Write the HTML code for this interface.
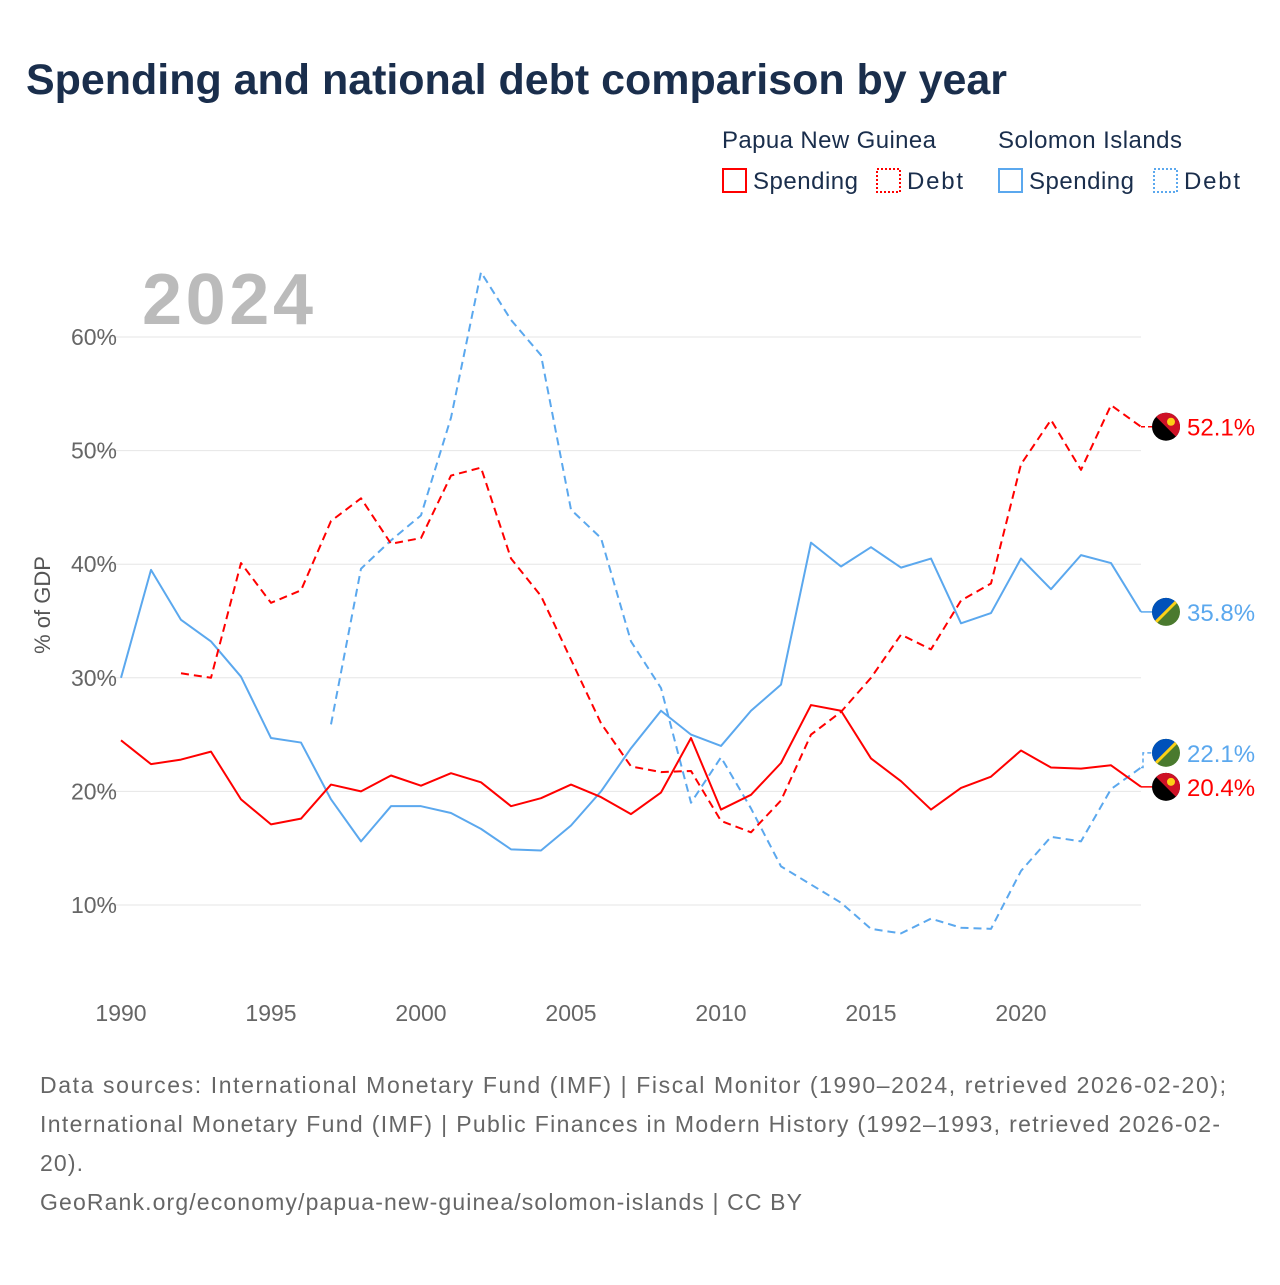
<!DOCTYPE html>
<html><head><meta charset="utf-8"><style>
body{margin:0;background:#fff;font-family:"Liberation Sans",sans-serif;}
svg text{font-family:"Liberation Sans",sans-serif;}
</style></head><body>
<svg width="1280" height="1280" viewBox="0 0 1280 1280">
<defs>
<clipPath id="cf"><circle cx="0" cy="0" r="14"/></clipPath>
</defs>
<text x="26" y="94" font-size="43" font-weight="bold" fill="#1a2e4c" textLength="981">Spending and national debt comparison by year</text>
<g font-size="24" fill="#1a2e4c">
<text x="722" y="148" fill="#1a2e4c" textLength="214">Papua New Guinea</text>
<text x="998" y="148" fill="#1a2e4c" textLength="184">Solomon Islands</text>
<g><rect x="723" y="169" width="23" height="23" fill="none" stroke="#f00" stroke-width="2"/><text x="753" y="189" fill="#1a2e4c" textLength="105">Spending</text></g>
<g><rect x="877" y="169" width="23" height="23" fill="none" stroke="#f00" stroke-width="2" stroke-dasharray="2,2"/><text x="907" y="189" fill="#1a2e4c" textLength="56">Debt</text></g>
<g><rect x="999" y="169" width="23" height="23" fill="none" stroke="#5ba8ee" stroke-width="2"/><text x="1029" y="189" fill="#1a2e4c" textLength="105">Spending</text></g>
<g><rect x="1154" y="169" width="23" height="23" fill="none" stroke="#5ba8ee" stroke-width="2" stroke-dasharray="2,2"/><text x="1184" y="189" fill="#1a2e4c" textLength="56">Debt</text></g>
</g>
<text x="142" y="324" font-size="72" font-weight="bold" fill="#bbb" textLength="171">2024</text>
<g id="grid"></g>
<g id="series"></g>
<g id="ends"></g>
<text transform="translate(50,605) rotate(-90)" text-anchor="middle" font-size="22" fill="#555">% of GDP</text>
<g font-size="23" fill="#666">
<text x="40" y="1093" textLength="1186">Data sources: International Monetary Fund (IMF) | Fiscal Monitor (1990–2024, retrieved 2026-02-20);</text>
<text x="40" y="1132" textLength="1180">International Monetary Fund (IMF) | Public Finances in Modern History (1992–1993, retrieved 2026-02-</text>
<text x="40" y="1171" textLength="43">20).</text>
<text x="40" y="1210" textLength="762">GeoRank.org/economy/papua-new-guinea/solomon-islands | CC BY</text>
</g>
</svg>
<script>
const yTicks=[10,20,30,40,50,60];
const xTicks=[1990,1995,2000,2005,2010,2015,2020];
const pngSpendYears=[1990,1991,1992,1993,1994,1995,1996,1997,1998,1999,2000,2001,2002,2003,2004,2005,2006,2007,2008,2009,2010,2011,2012,2013,2014,2015,2016,2017,2018,2019,2020,2021,2022,2023,2024];
const pngSpending=[24.5,22.4,22.8,23.5,19.3,17.1,17.6,20.6,20.0,21.4,20.5,21.6,20.8,18.7,19.4,20.6,19.5,18.0,19.9,24.7,18.4,19.7,22.5,27.6,27.1,22.9,20.9,18.4,20.3,21.3,23.6,22.1,22.0,22.3,20.4];
const pngDebtYears=[1992,1993,1994,1995,1996,1997,1998,1999,2000,2001,2002,2003,2004,2005,2006,2007,2008,2009,2010,2011,2012,2013,2014,2015,2016,2017,2018,2019,2020,2021,2022,2023,2024];
const pngDebt=[30.4,30.0,40.1,36.6,37.7,43.8,45.8,41.8,42.3,47.8,48.5,40.5,37.2,31.6,26.0,22.2,21.7,21.8,17.4,16.4,19.2,25.0,27.0,30.0,33.8,32.5,36.8,38.3,48.8,52.7,48.3,54.0,52.1];
const siSpending=[30.0,39.5,35.1,33.2,30.1,24.7,24.3,19.3,15.6,18.7,18.7,18.1,16.7,14.9,14.8,17.0,20.0,23.8,27.1,25.0,24.0,27.1,29.4,41.9,39.8,41.5,39.7,40.5,34.8,35.7,40.5,37.8,40.8,40.1,35.8];
const siDebtYears=[1997,1998,1999,2000,2001,2002,2003,2004,2005,2006,2007,2008,2009,2010,2011,2012,2013,2014,2015,2016,2017,2018,2019,2020,2021,2022,2023,2024];
const siDebt=[25.9,39.6,42.1,44.3,52.9,65.7,61.5,58.4,44.8,42.3,33.2,29.1,19.0,23.0,18.5,13.4,11.8,10.2,7.9,7.5,8.8,8.0,7.9,13.0,16.0,15.6,20.2,22.1];
const X=y=>121+(y-1990)*30;
const Y=v=>1018.6-v*11.36;
const NS="http://www.w3.org/2000/svg";
function mk(t,a,p){const e=document.createElementNS(NS,t);for(const k in a)e.setAttribute(k,a[k]);p.appendChild(e);return e;}
const grid=document.getElementById('grid');
yTicks.forEach(v=>{
 const l=mk('line',{x1:95,x2:1141,y1:Y(v),y2:Y(v),stroke:'#e6e6e6','stroke-width':1},grid);
 
 
 const t=mk('text',{x:117,y:Y(v)+8,'text-anchor':'end','font-size':23,fill:'#666'},grid);
 t.textContent=v+'%';
 
 
});
xTicks.forEach(y=>{
 const t=mk('text',{x:X(y),y:1021,'text-anchor':'middle','font-size':23,fill:'#666'},grid);
 t.textContent=y;
 
 
});
const sg=document.getElementById('series');
function line(years,vals,color,dash,name){
 const d=years.map((y,i)=>(i?'L':'M')+X(y)+','+Y(vals[i])).join(' ');
 const p=mk('path',{d:d,fill:'none',stroke:color,'stroke-width':2,'stroke-dasharray':dash||'none','stroke-linejoin':'round'},sg);
 
 
}
line(pngSpendYears,siSpending,'#5ba8ee','','si-spending-line');
line(siDebtYears,siDebt,'#5ba8ee','8,5','si-debt-line');
line(pngSpendYears,pngSpending,'#f00','','png-spending-line');
line(pngDebtYears,pngDebt,'#f00','8,5','png-debt-line');
const eg=document.getElementById('ends');
function flag(cy,type,g){
 const f=mk('g',{transform:'translate(1166,'+cy+')'},g);
 const c=mk('g',{'clip-path':'url(#cf)'},f);
 if(type==='png'){
  mk('rect',{x:-15,y:-15,width:30,height:30,fill:'#000'},c);
  mk('polygon',{points:'-15,-15 15,-15 15,15',fill:'#ce1126'},c);
  mk('circle',{cx:5,cy:-5,r:4,fill:'#fcd116'},c);
 } else {
  mk('rect',{x:-15,y:-15,width:30,height:30,fill:'#4a7a2e'},c);
  mk('polygon',{points:'-15,-15 15,-15 -15,15',fill:'#0051ba'},c);
  mk('line',{x1:15,y1:-15,x2:-15,y2:15,stroke:'#fcd116','stroke-width':3},c);
 }
}
function endLabel(val,flagY,color,type,dash,name,lbl){
 const g=mk('g',{},eg);
 
 
 mk('path',{d:'M1141,'+Y(val)+' L1143,'+Y(val)+' L1143,'+flagY+' L1152,'+flagY,fill:'none',stroke:color,'stroke-width':1.5,'stroke-dasharray':dash||'none'},g);
 flag(flagY,type,g);
 const t=mk('text',{x:1187,y:flagY+9,'font-size':24,fill:color},g);
 t.textContent=lbl;
}
const pE=pngDebt[pngDebt.length-1], sE=siSpending[siSpending.length-1], sdE=siDebt[siDebt.length-1], psE=pngSpending[pngSpending.length-1];
endLabel(pE,Y(pE),'#f00','png','4,3','end-label-png-debt',pE.toFixed(1)+'%');
endLabel(sE,Y(sE),'#5ba8ee','si','','end-label-si-spending',sE.toFixed(1)+'%');
endLabel(sdE,Y(psE)-34,'#5ba8ee','si','4,3','end-label-si-debt',sdE.toFixed(1)+'%');
endLabel(psE,Y(psE),'#f00','png','','end-label-png-spending',psE.toFixed(1)+'%');
</script>
</body></html>
